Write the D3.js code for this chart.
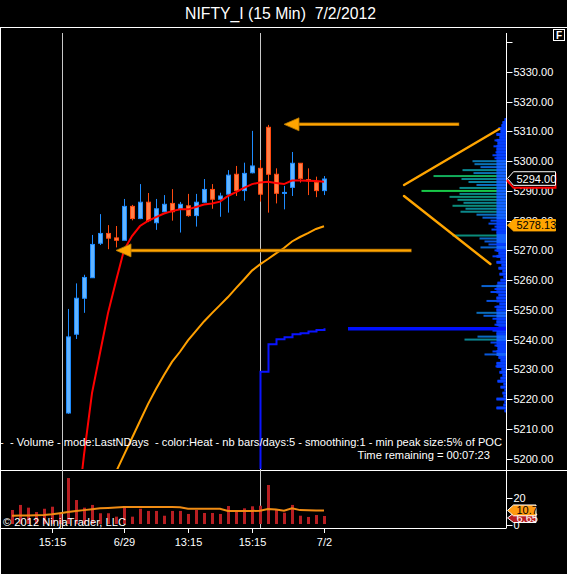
<!DOCTYPE html>
<html><head><meta charset="utf-8">
<script src="https://cdn.jsdelivr.net/npm/d3@7"></script>
<style>html,body{margin:0;padding:0;background:#000;overflow:hidden}svg{display:block}text{white-space:pre}</style>
</head><body><svg id="c" width="567" height="574"></svg>
<script>
// ---------------- DATA ----------------
const title = "NIFTY_I (15 Min)  7/2/2012";
const barIndex = d3.range(-7, 33);            // bar slots (6/28 14:00 ... 7/2 11:15)
const candleIndex = d3.range(0, 33);          // candles visible above 5200
const open  = [5215.3,5241.8,5253.9,5260.8,5272.4,5275.7,5274.2,5273.4,5284.8,5280.7,5286.2,5279.3,5283.0,5285.8,5283.8,5285.0,5281.7,5286.2,5290.5,5287.2,5288.9,5295.6,5290.1,5296.1,5297.6,5311.4,5295.6,5289.2,5291.2,5299.3,5293.8,5292.8,5290.1];
const high  = [5250.3,5258.9,5261.8,5275.2,5282.2,5278.5,5278.2,5287.3,5285.3,5292.3,5289.3,5287.3,5288.6,5290.6,5286.3,5289.0,5289.0,5294.0,5292.3,5289.4,5297.0,5298.4,5299.5,5310.2,5300.4,5312.2,5297.6,5291.7,5303.1,5299.3,5297.6,5294.8,5295.0];
const low   = [5215.0,5240.2,5249.0,5260.8,5271.8,5270.4,5271.0,5273.4,5280.1,5280.5,5279.5,5276.9,5282.8,5280.0,5276.0,5281.3,5278.0,5286.0,5284.0,5281.3,5282.7,5288.3,5286.7,5295.9,5286.4,5282.7,5285.8,5283.8,5288.3,5292.8,5288.6,5287.9,5288.6];
const close = [5240.9,5253.9,5260.9,5272.0,5275.7,5274.1,5273.4,5284.8,5280.7,5286.2,5280.0,5284.0,5285.5,5283.0,5285.5,5281.7,5286.2,5290.5,5287.2,5288.3,5295.3,5290.1,5295.9,5298.4,5288.9,5295.6,5289.2,5289.5,5299.3,5294.2,5293.4,5290.1,5294.0];

const fastMAIndex = d3.range(1, 33);
const fastMA = [5177.6,5201.2,5222.0,5235.5,5248.9,5259.7,5270.1,5274.8,5278.2,5279.9,5281.2,5282.4,5283.2,5283.8,5283.8,5284.6,5285.4,5285.8,5286.4,5288.3,5289.6,5291.0,5292.3,5292.8,5293.1,5292.7,5292.3,5293.5,5293.5,5293.4,5293.3,5293.1];
const slowMAIndex = d3.range(6, 33);
const slowMA = [5195.5,5201.2,5206.9,5212.6,5218.3,5223.4,5228.1,5232.5,5235.9,5239.7,5242.9,5246.1,5248.9,5251.6,5254.3,5257.3,5260.2,5263.2,5265.3,5267.1,5269.0,5270.8,5273.0,5274.5,5275.8,5277.2,5278.13];

const vwapIndex = [24,24,25,26,27,28,29,30,31,32];
const vwapValue = [5196,5229.2,5238.4,5240.1,5240.8,5241.8,5242.1,5242.7,5243.2,5243.8];
const vwapExtensionFrom = 35;

const volume   = [11.0,14.7,12.7,9.5,11.9,13.4,9.0,34.4,18.3,12.7,14.7,8.6,8.6,6.1,13.9,6.1,11.9,10.3,10.3,6.8,10.3,10.3,8.1,11.0,8.8,8.8,8.1,13.9,9.7,12.2,13.7,14.1,29.3,11.5,9.0,14.7,6.8,5.9,7.3,6.6];
const volumeMA = [6.8,6.9,7.0,7.1,7.3,7.8,8.6,9.5,10.3,10.9,11.5,12.2,12.5,12.8,13.2,13.2,13.2,13.2,13.2,13.2,13.1,13.0,11.9,11.9,11.9,11.9,11.9,10.3,10.3,10.3,10.3,10.4,11.7,11.3,10.5,12.2,10.9,10.8,10.7,10.7];

const timeTickIndex = [-2, 7, 15, 23, 32];
const timeTickLabel = ["15:15", "6/29", "13:15", "15:15", "7/2"];
const sessionBreaks = [-0.75, 24.05];

const priceTicks = [5200,5210,5220,5230,5240,5250,5260,5270,5280,5290,5300,5310,5320,5330,5340];
const priceTickLabelMax = 5330;
const volumeTicks = [0, 20];

const profileLow = 5216;   // price of first profile level (1 point per level)
const profileVolume = [2,10,3,2,10,3,4,2,6,3,9,6,4,7,5,11,10,6,8,22,14,9,12,16,42,29,10,14,8,12,10,14,23,30,10,12,7,20,10,8,16,12,25,9,6,3,7,4,8,5,10,6,14,8,12,26,18,22,27,54,10,15,12,18,16,24,30,46,41,54,43,49,57,47,85,47,30,38,45,73,33,44,26,32,34,12,14,11,10,13,9,12,7,10,6,8,5,4,2];

const lastPrice = 5294.00, lastFast = 5293.1, lastSlow = 5278.13;
const lastVolMA = 10.7, lastVolume = 6.65;

// annotations (bar index, price)
const arrowsH = [
  {tipI: 27, tailI: 48.9, p: 5312.4},
  {tipI: 6,  tailI: 42.95, p: 5270.0}
];
const lines = [
  {i1: 42, p1: 5292.0, i2: 53.9, p2: 5310.8},
  {i1: 42, p1: 5288.3, i2: 52.8, p2: 5265.4}
];

const indicatorText = "- Volume - mode:LastNDays  - color:Heat - nb bars/days:5 - smoothing:1 - min peak size:5% of POC";
const timeText = "Time remaining = 00:07:23";
const copyright = "\u00a9 2012 NinjaTrader, LLC";

// ---------------- LAYOUT / SCALES ----------------
const FONT = "'Liberation Sans', Arial, sans-serif";
const svg = d3.select("#c");
const axisX = 506.5;
const panelTop = 27.5, panelBottom = 470, volBottom = 528;
const x = d3.scaleLinear().domain([-7, 32]).range([12, 324]);
const y = d3.scaleLinear().domain([5200, 5330]).range([458.5, 72]);
const yv = d3.scaleLinear().domain([0, 20]).range([525, 497.7]);

svg.append("rect").attr("width", 567).attr("height", 574).attr("fill", "#000");
const defs = svg.append("defs");
defs.append("clipPath").attr("id", "pclip").append("rect")
  .attr("x", 1).attr("y", 28).attr("width", 505.5).attr("height", panelBottom - 29);
defs.append("clipPath").attr("id", "vclip").append("rect")
  .attr("x", 1).attr("y", panelBottom + 1).attr("width", 505.5).attr("height", volBottom - panelBottom - 1);

// title
svg.append("text").attr("x", 280.5).attr("y", 19).attr("text-anchor", "middle")
  .attr("font-family", FONT).attr("font-size", 16).attr("fill", "#fff")
  .attr("textLength", 191).attr("lengthAdjust", "spacingAndGlyphs").text(title);

// frame lines
const frame = svg.append("g").attr("stroke", "#fff").attr("stroke-width", 1);
frame.append("line").attr("x1", 0).attr("x2", 567).attr("y1", panelTop).attr("y2", panelTop);
frame.append("line").attr("x1", 0.5).attr("x2", 0.5).attr("y1", panelTop).attr("y2", 574);
frame.append("line").attr("x1", 0).attr("x2", 567).attr("y1", panelBottom + 0.5).attr("y2", panelBottom + 0.5);
frame.append("line").attr("x1", 0).attr("x2", axisX).attr("y1", volBottom + 0.5).attr("y2", volBottom + 0.5);

// session lines (behind everything else)
svg.append("g").selectAll("line").data(sessionBreaks).join("line")
  .attr("x1", d => Math.round(x(d)) + 0.5).attr("x2", d => Math.round(x(d)) + 0.5)
  .attr("y1", 33).attr("y2", volBottom)
  .attr("stroke", "#c8c8c8").attr("stroke-width", 1);

// ---------------- PRICE PANEL ----------------
const pg = svg.append("g").attr("clip-path", "url(#pclip)");

// volume profile
const heat = d3.scaleLinear().domain([0, 12, 25, 40, 60, 85])
  .range(["#0010ff", "#0038ff", "#0a62d0", "#0a8496", "#0c9070", "#18c848"]);
const lenScale = d3.scaleLinear().domain([0, 85]).range([0, 85]);
const prof = profileVolume.map((v, k) => ({p: profileLow + k, v}));
pg.append("g").selectAll("rect").data(prof).join("rect")
  .attr("x", d => axisX - lenScale(d.v)).attr("y", d => y(d.p) - 1)
  .attr("width", d => lenScale(d.v)).attr("height", 2)
  .attr("fill", d => heat(d.v));
pg.append("g").selectAll("rect").data(prof).join("rect")
  .attr("x", d => axisX - Math.min(lenScale(d.v), 10)).attr("y", d => y(d.p) - 1.5)
  .attr("width", d => Math.min(lenScale(d.v), 10)).attr("height", 3)
  .attr("fill", d => d.v > 20 ? "#1464ff" : "#0640ff");

// candles
const candles = candleIndex.map((i, k) => ({i, o: open[k], h: high[k], l: low[k], c: close[k]}));
const cg = pg.append("g");
cg.selectAll("line").data(candles).join("line")
  .attr("x1", d => x(d.i) + 0.5).attr("x2", d => x(d.i) + 0.5)
  .attr("y1", d => y(d.h)).attr("y2", d => y(d.l))
  .attr("stroke", d => d.c >= d.o ? "#1e8cff" : "#ff4a10").attr("stroke-width", 1);
cg.selectAll("rect").data(candles).join("rect")
  .attr("x", d => x(d.i) - 1.5).attr("width", 4)
  .attr("y", d => y(Math.max(d.o, d.c)))
  .attr("height", d => Math.max(1, Math.abs(y(d.o) - y(d.c))))
  .attr("fill", d => d.c >= d.o ? "#62b4ff" : "#ff8048")
  .attr("stroke", d => d.c >= d.o ? "#1e8cff" : "#ff4a10").attr("stroke-width", 1);

// moving averages
const line = d3.line().x(d => x(d[0])).y(d => y(d[1]));
pg.append("path").attr("d", line(slowMAIndex.map((i, k) => [i, slowMA[k]])))
  .attr("fill", "none").attr("stroke", "#ffa000").attr("stroke-width", 2);
pg.append("path").attr("d", line(fastMAIndex.map((i, k) => [i, fastMA[k]])))
  .attr("fill", "none").attr("stroke", "#ff0000").attr("stroke-width", 2);

// vwap step line
pg.append("path").attr("d", d3.line().curve(d3.curveStepAfter).x(d => x(d[0]) + 0.5).y(d => y(d[1]))(vwapIndex.map((i, k) => [i, vwapValue[k]])))
  .attr("fill", "none").attr("stroke", "#0a14ff").attr("stroke-width", 2);
pg.append("line").attr("x1", x(vwapExtensionFrom)).attr("x2", axisX)
  .attr("y1", y(vwapValue[vwapValue.length - 1]) + 0.5).attr("y2", y(vwapValue[vwapValue.length - 1]) + 0.5)
  .attr("stroke", "#0010ff").attr("stroke-width", 3.5);

// annotations
const ag = svg.append("g");
arrowsH.forEach(a => {
  const tx = x(a.tipI), ty = y(a.p), ex = x(a.tailI);
  ag.append("line").attr("x1", tx + 14).attr("x2", ex).attr("y1", ty).attr("y2", ty)
    .attr("stroke", "#9a6000").attr("stroke-width", 3.5);
  ag.append("line").attr("x1", tx + 14).attr("x2", ex - 0.5).attr("y1", ty).attr("y2", ty)
    .attr("stroke", "#ffa500").attr("stroke-width", 2);
  ag.append("path").attr("d", `M${tx},${ty}L${tx + 15},${ty - 6.5}L${tx + 15},${ty + 6.5}Z`)
    .attr("fill", "#ffa500").attr("stroke", "#b87800").attr("stroke-width", 0.8);
});
lines.forEach(l => {
  ag.append("line").attr("x1", x(l.i1)).attr("y1", y(l.p1)).attr("x2", x(l.i2)).attr("y2", y(l.p2))
    .attr("stroke", "#ffa500").attr("stroke-width", 2.4).attr("stroke-linecap", "round");
});

// indicator text
svg.append("text").attr("x", 0).attr("y", 445.5).attr("font-family", FONT).attr("font-size", 11)
  .attr("fill", "#fff").text("-");
svg.append("text").attr("x", 10).attr("y", 445.5).attr("font-family", FONT).attr("font-size", 11)
  .attr("fill", "#fff").attr("textLength", 492).attr("lengthAdjust", "spacingAndGlyphs").text(indicatorText);
svg.append("text").attr("x", 357.5).attr("y", 458.5).attr("font-family", FONT).attr("font-size", 11)
  .attr("fill", "#fff").attr("textLength", 132.5).attr("lengthAdjust", "spacingAndGlyphs").text(timeText);

// price axis
const axg = svg.append("g");
axg.append("line").attr("x1", axisX).attr("x2", axisX).attr("y1", 33).attr("y2", panelBottom)
  .attr("stroke", "#fff");
axg.selectAll("line.t").data(priceTicks).join("line").attr("class", "t")
  .attr("x1", axisX).attr("x2", axisX + 6).attr("y1", d => Math.round(y(d)) + 0.5).attr("y2", d => Math.round(y(d)) + 0.5)
  .attr("stroke", "#fff");
axg.selectAll("text").data(priceTicks.filter(d => d <= priceTickLabelMax)).join("text")
  .attr("x", 513.5).attr("y", d => y(d) + 4).attr("font-family", FONT).attr("font-size", 11)
  .attr("fill", "#fff").text(d => d.toFixed(2));

// price labels
function tag(yc, txt, fill, stroke, textFill, x0, x1, hh, sw) {
  const g = svg.append("g");
  g.append("path").attr("d", `M${x0},${yc}L${x0 + 6},${yc - hh}L${x1},${yc - hh}L${x1},${yc + hh}L${x0 + 6},${yc + hh}Z`)
    .attr("fill", fill).attr("stroke", stroke).attr("stroke-width", sw || 1);
  g.append("text").attr("x", x0 + 9).attr("y", yc + 4).attr("font-family", FONT).attr("font-size", 11)
    .attr("fill", textFill).text(txt);
  return g;
}
tag(y(lastPrice) + 2, "", "#000", "#ff0000", "#fff", 507.5, 555.5, 6.8, 2);
tag(y(lastPrice) - 0.5, lastPrice.toFixed(2), "#000", "#fff", "#fff", 507.5, 555.5, 6.8);
tag(y(lastSlow) - 1, lastSlow.toFixed(2), "#ffa500", "#ffa500", "#000", 507.5, 555.5, 5.7);

// F box
svg.append("rect").attr("x", 553.5).attr("y", 29.5).attr("width", 11).attr("height", 11)
  .attr("fill", "#000").attr("stroke", "#fff");
svg.append("text").attr("x", 559).attr("y", 39).attr("text-anchor", "middle").attr("font-family", FONT)
  .attr("font-size", 10).attr("font-weight", "bold").attr("fill", "#fff").text("F");

// ---------------- VOLUME PANEL ----------------
const vg = svg.append("g").attr("clip-path", "url(#vclip)");
vg.selectAll("rect").data(barIndex.map((i, k) => ({i, v: volume[k]}))).join("rect")
  .attr("x", d => x(d.i) - 1).attr("width", 3)
  .attr("y", d => yv(d.v)).attr("height", d => yv(0) - yv(d.v) - 1)
  .attr("fill", "#b81e22");
vg.append("path").attr("d", d3.line().x(d => x(d[0])).y(d => yv(d[1]))(barIndex.map((i, k) => [i, volumeMA[k]])))
  .attr("fill", "none").attr("stroke", "#f08c14").attr("stroke-width", 2);

svg.append("line").attr("x1", axisX).attr("x2", axisX).attr("y1", panelBottom).attr("y2", volBottom)
  .attr("stroke", "#fff");
svg.selectAll("line.vt").data(volumeTicks).join("line").attr("class", "vt")
  .attr("x1", axisX).attr("x2", axisX + 6).attr("y1", d => Math.round(yv(d)) + 0.5).attr("y2", d => Math.round(yv(d)) + 0.5)
  .attr("stroke", "#fff");
svg.selectAll("text.vt").data(volumeTicks).join("text").attr("class", "vt")
  .attr("x", 513.5).attr("y", d => yv(d) + 4).attr("font-family", FONT).attr("font-size", 11)
  .attr("fill", "#fff").text(d => d);

tag(yv(lastVolume) + 2, lastVolume.toFixed(2), "#b81e22", "#fff", "#fff", 507.5, 536, 4.6);
tag(yv(lastVolMA), lastVolMA.toFixed(1), "#ff9a10", "#fff", "#000", 507.5, 536, 5.4);

svg.append("text").attr("x", 3).attr("y", 525.5).attr("font-family", FONT).attr("font-size", 11)
  .attr("fill", "#fff").attr("textLength", 123).attr("lengthAdjust", "spacingAndGlyphs").text(copyright);

// time axis
svg.selectAll("line.tt").data(timeTickIndex).join("line").attr("class", "tt")
  .attr("x1", d => x(d) + 0.5).attr("x2", d => x(d) + 0.5).attr("y1", volBottom).attr("y2", volBottom + 5)
  .attr("stroke", "#fff");
svg.selectAll("text.tt").data(timeTickIndex).join("text").attr("class", "tt")
  .attr("x", d => x(d) + 0.5).attr("y", 545.5).attr("text-anchor", "middle")
  .attr("font-family", FONT).attr("font-size", 11).attr("fill", "#fff")
  .text((d, k) => timeTickLabel[k]);
</script>
</body></html>
